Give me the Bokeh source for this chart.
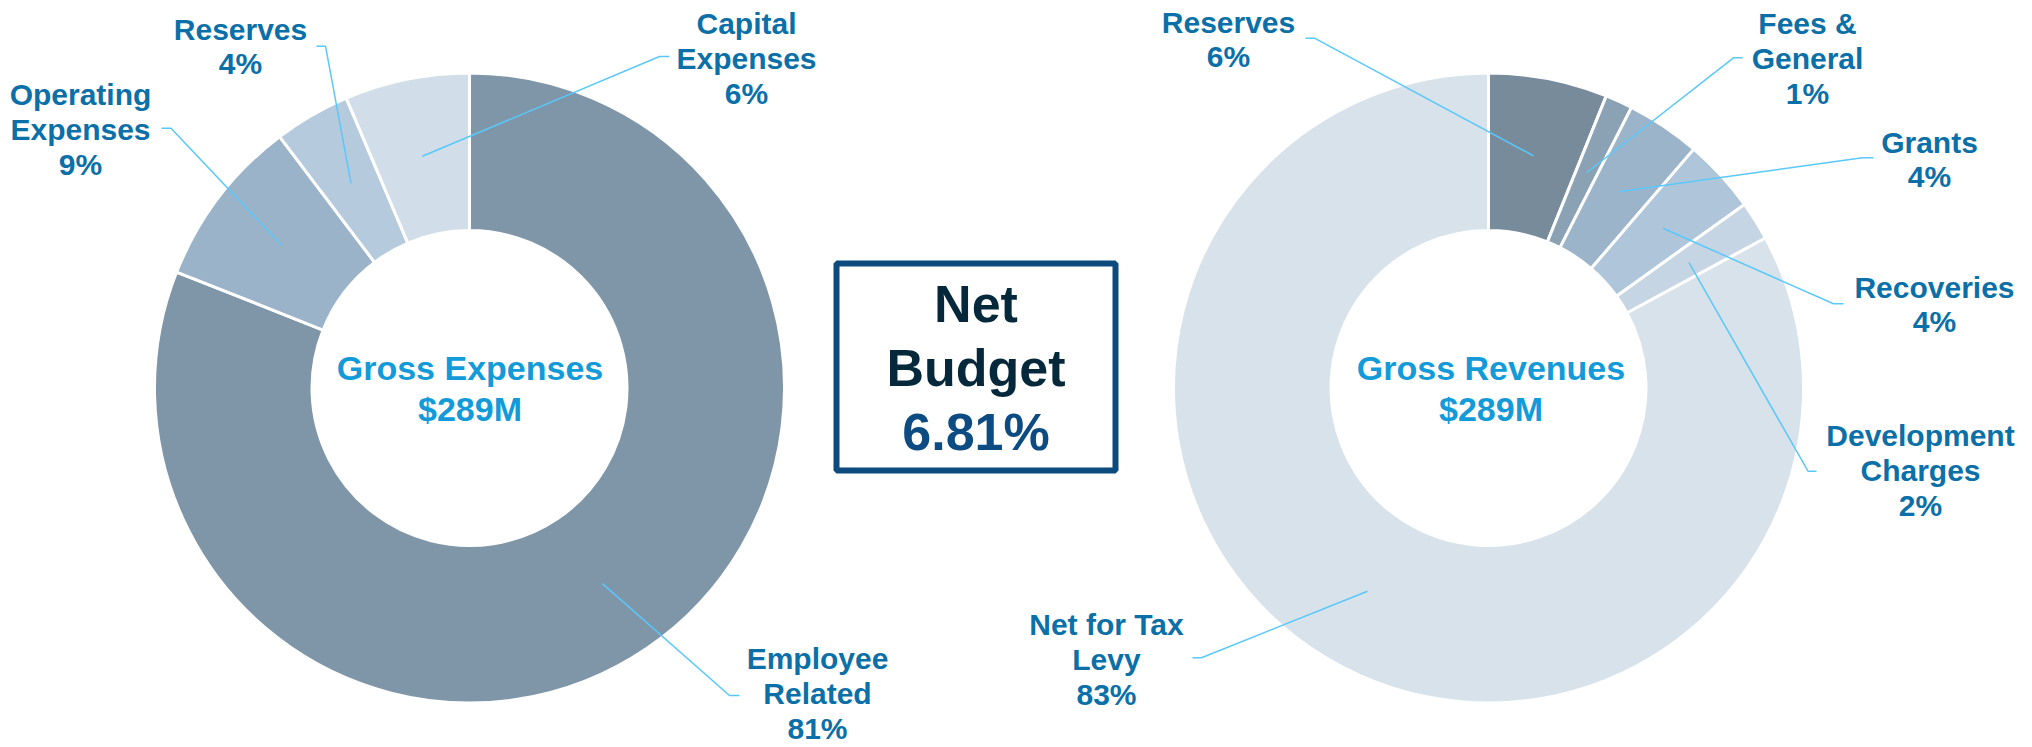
import numpy as np
from bokeh.plotting import figure
from bokeh.models import Range1d, ColumnDataSource
from bokeh.core.properties import value
from bokeh.embed import file_html
from bokeh.resources import INLINE

# ---------------- data ----------------
exp_categories = ["Employee\nRelated", "Operating\nExpenses", "Reserves", "Capital\nExpenses"]
exp_values = [81.0, 8.7, 3.9, 6.4]
exp_colors = ["#7f95a8", "#9ab3c8", "#b5cadc", "#d1dde8"]

rev_categories = ["Reserves", "Fees &\nGeneral", "Grants", "Recoveries", "Development\nCharges", "Net for Tax\nLevy"]
rev_values = [6.1, 1.4, 3.8, 3.8, 2.0, 82.9]
rev_colors = ["#778b9b", "#8ba2b5", "#9bb4ca", "#afc6da", "#c5d5e3", "#d8e2eb"]

gross_titles = ["Gross Expenses", "Gross Revenues"]
gross_totals_m = [289, 289]
net_budget_pct = 6.81

# ---------------- layout (reference pixel coordinates) ----------------
PAGE_W, PAGE_H = 2032, 747
def Y(v):
    return PAGE_H - v

R_OUT, R_IN, R_LEAD = 313.5, 159.0, 236.5
centers = [(469.0, 387.5), (1488.0, 387.5)]

# label anchors (x center, block center y) and leader elbow/end points
exp_label_pos = [(817, 693), (80, 129), (240, 46), (746, 58)]
exp_leader = [((729, 695), (739, 695)), ((170.5, 127.7), (161, 127.7)),
              ((325, 45.7), (316, 45.7)), ((659, 56), (669, 56))]
rev_label_pos = [(1228, 39), (1807, 58), (1929, 159), (1934, 304), (1920, 470), (1106, 659)]
rev_leader = [((1314, 37.7), (1305, 37.7)), ((1733, 57.3), (1742, 57.3)),
              ((1862, 157.3), (1873, 157.3)), ((1833, 303.3), (1843, 303.3)),
              ((1807.5, 470.7), (1816, 470.7)), ((1201, 657.3), (1192, 657.3))]

FONT = value("Liberation Sans")
LABEL_COLOR = "#0b70a8"
LEADER_COLOR = "#5ac8fa"

p = figure(width=PAGE_W, height=PAGE_H, output_backend="svg", toolbar_location=None,
           x_range=Range1d(0, PAGE_W), y_range=Range1d(0, PAGE_H),
           x_axis_location=None, y_axis_location=None, min_border=0)
p.grid.visible = False
p.outline_line_color = None
p.background_fill_color = "white"
p.border_fill_color = "white"


def donut(center, vals, colors, cats, label_pos, leaders):
    cx, cy = center
    v = np.array(vals, dtype=float)
    frac = v / v.sum()
    cum = np.concatenate([[0.0], np.cumsum(frac)])
    start = np.pi / 2 - 2 * np.pi * cum[:-1]
    end = np.pi / 2 - 2 * np.pi * cum[1:]
    src = ColumnDataSource(dict(start=start, end=end, color=colors))
    p.annular_wedge(x=cx, y=Y(cy), inner_radius=R_IN - 1.5, outer_radius=R_OUT + 1.5,
                    start_angle="start", end_angle="end", direction="clock",
                    fill_color="color", line_color="white", line_width=3, source=src)
    mid = np.pi / 2 - 2 * np.pi * (cum[:-1] + cum[1:]) / 2
    xs, ys = [], []
    for i, m in enumerate(mid):
        sx = cx + R_LEAD * np.cos(m)
        sy = Y(cy) + R_LEAD * np.sin(m)
        (ex, ey), (tx, ty) = leaders[i]
        xs.append([sx, ex, tx])
        ys.append([sy, Y(ey), Y(ty)])
    p.multi_line(xs=xs, ys=ys, line_color=LEADER_COLOR, line_width=1.5)
    texts = [f"{c}\n{round(val)}%" for c, val in zip(cats, vals)]
    p.text(x=[lp[0] for lp in label_pos], y=[Y(lp[1]) for lp in label_pos], text=texts,
           text_align="center", text_baseline="middle", text_font=FONT,
           text_font_style="bold", text_font_size="30px", text_color=LABEL_COLOR,
           text_line_height=1.06)


donut(centers[0], exp_values, exp_colors, exp_categories, exp_label_pos, exp_leader)
donut(centers[1], rev_values, rev_colors, rev_categories, rev_label_pos, rev_leader)

# centre texts
p.text(x=[469.5, 1490.5], y=[Y(388), Y(388)],
       text=[f"{t}\n${v}M" for t, v in zip(gross_titles, gross_totals_m)],
       text_align="center", text_baseline="middle", text_font=FONT, text_font_style="bold",
       text_font_size="34px", text_color="#139bd9", text_line_height=1.08)

# net budget box
p.quad(left=[836], right=[1115], top=[Y(263)], bottom=[Y(470)], fill_color="white",
       line_color="#0d4a7e", line_width=6)
p.text(x=[975.5, 975.5], y=[Y(303.5), Y(367)], text=["Net", "Budget"],
       text_align="center", text_baseline="middle", text_font=FONT, text_font_style="bold",
       text_font_size="52px", text_color="#06283b")
p.text(x=[975.5], y=[Y(431)], text=[f"{net_budget_pct:.2f}%"],
       text_align="center", text_baseline="middle", text_font=FONT, text_font_style="bold",
       text_font_size="52px", text_color="#0d4c82")

open("out.html", "w").write(file_html(p, INLINE))
